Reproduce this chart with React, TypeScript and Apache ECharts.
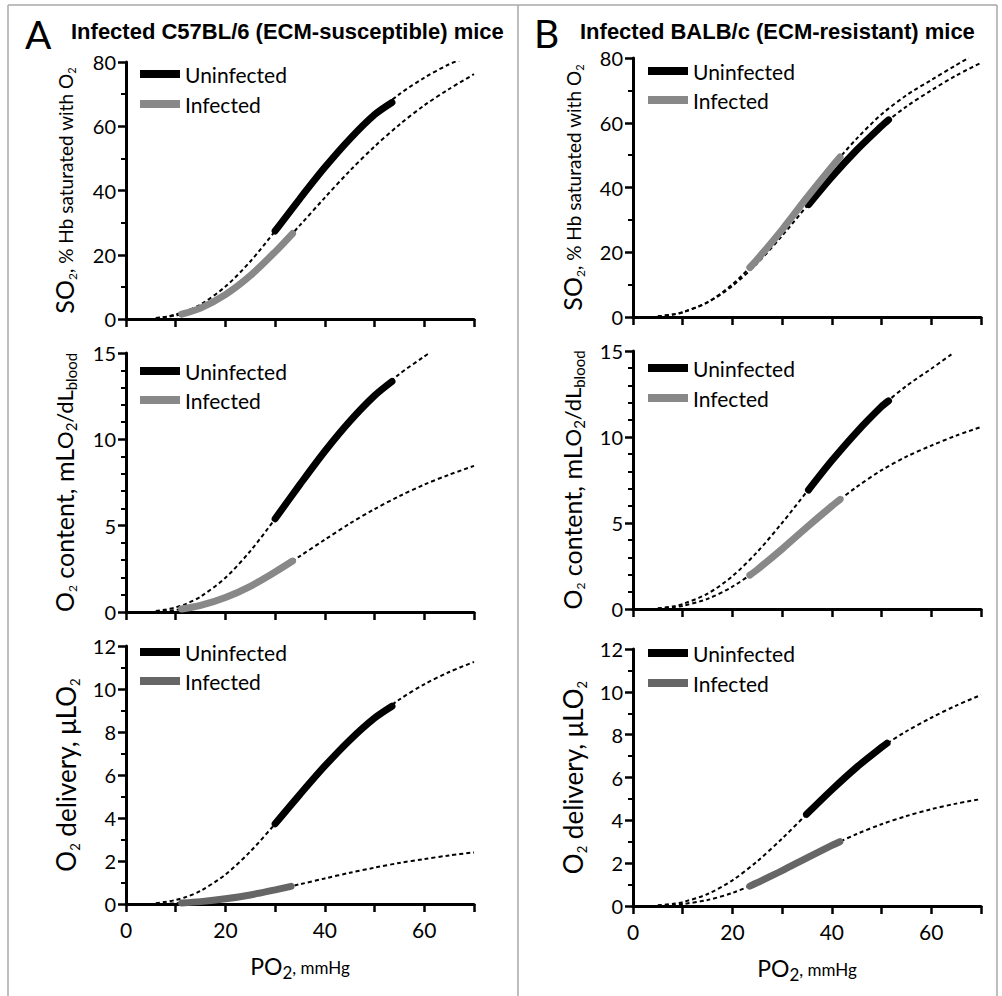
import React, { useEffect, useRef } from 'react';
import * as echarts from 'echarts';

// PO2 (mmHg) vs value pairs
const A_SO2_uFit = [[6,0.3],[8,0.7],[10,1.4],[12,2.4],[15,4.5],[20,10.1],[25,17.9],[30,27.4],[35,37.5],[40,47.2],[45,56.0],[50,63.6],[55,70.0],[60,75.1],[65,79.3],[67.2,80.6]];
const A_SO2_uLine = [[30,27.4],[35,37.5],[40,47.2],[45,56.0],[50,63.6],[53.5,67.4]];
const A_SO2_iFit = [[6,0.25],[8,0.6],[10,1.1],[12,1.8],[15,3.4],[20,7.6],[25,13.5],[30,20.9],[35,29.2],[40,37.8],[45,46.1],[50,53.7],[55,60.5],[60,66.5],[65,71.6],[70,76.2]];
const A_SO2_iLine = [[11.2,1.5],[15,3.4],[20,7.6],[25,13.5],[30,20.9],[33.5,26.6]];

const A_O2C_uFit = [[6,0.06],[8,0.14],[10,0.27],[12,0.46],[15,0.89],[20,1.98],[25,3.53],[30,5.4],[35,7.39],[40,9.31],[45,11.04],[50,12.53],[55,13.78],[60,14.8],[61,15.0]];
const A_O2C_uLine = [[30,5.4],[35,7.39],[40,9.31],[45,11.04],[50,12.53],[53.5,13.35]];
const A_O2C_iFit = [[6,0.03],[8,0.06],[10,0.12],[12,0.2],[15,0.38],[20,0.84],[25,1.49],[30,2.32],[35,3.24],[40,4.19],[45,5.12],[50,5.96],[55,6.71],[60,7.38],[65,7.95],[70,8.46]];
const A_O2C_iLine = [[11.2,0.17],[15,0.38],[20,0.84],[25,1.49],[30,2.32],[33.5,2.95]];

const A_DEL_uFit = [[6,0.04],[8,0.1],[10,0.19],[12,0.32],[15,0.61],[20,1.37],[25,2.44],[30,3.73],[35,5.1],[40,6.42],[45,7.62],[50,8.65],[55,9.51],[60,10.22],[65,10.79],[70,11.26]];
const A_DEL_uLine = [[30,3.73],[35,5.1],[40,6.42],[45,7.62],[50,8.65],[53.5,9.2]];
const A_DEL_iFit = [[6,0.01],[8,0.02],[10,0.03],[12,0.06],[15,0.11],[20,0.24],[25,0.42],[30,0.66],[35,0.92],[40,1.19],[45,1.45],[50,1.69],[55,1.91],[60,2.09],[65,2.26],[70,2.4]];
const A_DEL_iLine = [[11.2,0.05],[15,0.11],[20,0.24],[25,0.42],[30,0.66],[33.2,0.82]];

const B_SO2_uFit = [[5,0.2],[8,0.8],[10,1.5],[15,4.5],[20,9.6],[25,16.6],[30,25.1],[35,34.3],[40,43.3],[45,51.6],[50,59.0],[55,65.0],[60,70.0],[65,74.6],[70,78.5]];
const B_SO2_uLine = [[35.3,34.7],[40,43.3],[45,51.6],[50,59.0],[51.4,60.9]];
const B_SO2_iFit = [[5,0.2],[8,0.75],[10,1.4],[15,4.6],[20,10.1],[25,17.8],[30,27.0],[35,36.9],[40,46.4],[45,55.1],[50,62.6],[55,68.5],[60,73.2],[65,77.8],[67.5,80]];
const B_SO2_iLine = [[23.5,15.3],[25,17.8],[30,27.0],[35,36.9],[40,46.4],[41.65,49.4]];

const B_O2C_uFit = [[5,0.04],[8,0.15],[10,0.29],[15,0.89],[20,1.91],[25,3.32],[30,5.01],[35,6.83],[40,8.63],[45,10.29],[50,11.77],[55,12.97],[60,13.97],[64.5,14.9]];
const B_O2C_uLine = [[35.3,6.92],[40,8.63],[45,10.29],[50,11.77],[51.4,12.1]];
const B_O2C_iFit = [[5,0.02],[8,0.1],[10,0.18],[15,0.59],[20,1.3],[25,2.29],[30,3.49],[35,4.76],[40,5.99],[45,7.1],[50,8.07],[55,8.86],[60,9.5],[65,10.08],[70,10.58]];
const B_O2C_iLine = [[23.5,1.97],[25,2.29],[30,3.49],[35,4.76],[40,5.99],[41.65,6.37]];

const B_DEL_uFit = [[5,0.03],[8,0.1],[10,0.18],[15,0.56],[20,1.2],[25,2.09],[30,3.15],[35,4.3],[40,5.43],[45,6.48],[50,7.41],[55,8.16],[60,8.79],[65,9.36],[70,9.85]];
const B_DEL_uLine = [[34.9,4.28],[40,5.43],[45,6.48],[50,7.41],[51.1,7.6]];
const B_DEL_iFit = [[5,0.01],[8,0.05],[10,0.09],[15,0.28],[20,0.61],[25,1.09],[30,1.65],[35,2.25],[40,2.83],[45,3.36],[50,3.82],[55,4.2],[60,4.52],[65,4.78],[70,4.99]];
const B_DEL_iLine = [[23.5,0.93],[25,1.09],[30,1.65],[35,2.25],[40,2.83],[41.6,3.0]];

const X_LABELS = [0, 20, 40, 60];
const LEGEND_NAMES = ['Uninfected', 'Infected'];
const TITLE_A = 'Infected C57BL/6 (ECM-susceptible) mice';
const TITLE_B = 'Infected BALB/c (ECM-resistant) mice';

const FONT = 'Lato';

const NAME_SO2 = '{big|SO}{bsub|2}{sm|, % Hb saturated with O}{ssub|2}';
const NAME_O2C = '{big|O}{bsub|2}{big| content, mL}{mid|O}{msub|2}{mid|/dL}{msub|blood}';
const NAME_DEL = '{dbig|O}{dsub|2}{dbig| delivery, μLO}{dsub|2}';
const NAME_X = '{xbig|PO}{xsub|2}{xsm|, mmHg}';

const tok = (size: number, pb: number) => ({
  fontSize: size, fontFamily: FONT, color: '#000', verticalAlign: 'bottom', padding: [0, 0, pb, 0],
});
const rich: any = {
  big: tok(25, 3),
  bsub: tok(12, 1),
  sm: tok(19, 4),
  ssub: tok(11, 1.9),
  mid: tok(22, 3.5),
  msub: tok(15, 0.7),
  dbig: tok(26, 2.8),
  dsub: tok(13, 0.5),
  xbig: tok(23, 5),
  xsub: tok(17, 1),
  xsm: tok(17, 6),
};

const panels = [
  { left: 126, top: 62, height: 257, max: 80, interval: 20, minor: 2, name: NAME_SO2, gap: 47, lg: 63, lgGap: 8, lgLeft: 140, grey: '#888', uF: A_SO2_uFit, uL: A_SO2_uLine, iF: A_SO2_iFit, iL: A_SO2_iLine, xl: false },
  { left: 126, top: 353, height: 259, max: 15, interval: 5, minor: 5, name: NAME_O2C, gap: 47, lg: 360, lgGap: 7, lgLeft: 140, grey: '#888', uF: A_O2C_uFit, uL: A_O2C_uLine, iF: A_O2C_iFit, iL: A_O2C_iLine, xl: false },
  { left: 126, top: 646, height: 258, max: 12, interval: 2, minor: 2, name: NAME_DEL, gap: 44, lg: 641, lgGap: 7, lgLeft: 140, grey: '#666', uF: A_DEL_uFit, uL: A_DEL_uLine, iF: A_DEL_iFit, iL: A_DEL_iLine, xl: true },
  { left: 633, top: 58, height: 259, max: 80, interval: 20, minor: 2, name: NAME_SO2, gap: 46, lg: 60, lgGap: 7, lgLeft: 648, grey: '#888', uF: B_SO2_uFit, uL: B_SO2_uLine, iF: B_SO2_iFit, iL: B_SO2_iLine, xl: false },
  { left: 633, top: 351, height: 258, max: 15, interval: 5, minor: 5, name: NAME_O2C, gap: 46, lg: 357, lgGap: 8, lgLeft: 648, grey: '#888', uF: B_O2C_uFit, uL: B_O2C_uLine, iF: B_O2C_iFit, iL: B_O2C_iLine, xl: false },
  { left: 633, top: 649, height: 257, max: 12, interval: 2, minor: 2, name: NAME_DEL, gap: 44, lg: 642, lgGap: 8, lgLeft: 648, grey: '#666', uF: B_DEL_uFit, uL: B_DEL_uLine, iF: B_DEL_iFit, iL: B_DEL_iLine, xl: true },
];

function buildOption() {
  const grid: any[] = [];
  const xAxis: any[] = [];
  const yAxis: any[] = [];
  const series: any[] = [];
  const legend: any[] = [];
  panels.forEach((p, i) => {
    grid.push({ left: p.left, top: p.top, width: 348, height: p.height, containLabel: false });
    xAxis.push({
      type: 'value', gridIndex: i, min: 0, max: 70, interval: 10,
      axisLine: { show: true, onZero: false, lineStyle: { color: '#000', width: 3 } },
      axisTick: { show: true, length: 8, lineStyle: { color: '#000', width: 2.5 } },
      axisLabel: {
        show: p.xl, margin: 15, fontSize: 21, fontFamily: FONT, color: '#000',
        formatter: (v: number) => (X_LABELS.indexOf(v) >= 0 ? String(v) : ''),
      },
      splitLine: { show: false },
      name: p.xl ? NAME_X : '', nameLocation: 'middle', nameGap: 50,
      nameTextStyle: { rich },
    });
    yAxis.push({
      type: 'value', gridIndex: i, min: 0, max: p.max, interval: p.interval,
      axisLine: { show: true, onZero: false, lineStyle: { color: '#000', width: 3 } },
      axisTick: { show: true, length: 8, lineStyle: { color: '#000', width: 2.5 } },
      minorTick: { show: true, splitNumber: p.minor, length: 5, lineStyle: { color: '#000', width: 2 } },
      axisLabel: { margin: 10, fontSize: 20, fontFamily: FONT, color: '#000' },
      splitLine: { show: false },
      name: p.name, nameLocation: 'middle', nameGap: p.gap, nameRotate: 90,
      nameTextStyle: { rich },
    });
    legend.push({
      orient: 'vertical', left: p.lgLeft, top: p.lg, padding: 0, itemGap: p.lgGap,
      itemWidth: 40, itemHeight: 8, icon: 'rect', selectedMode: false,
      textStyle: { fontFamily: FONT, fontSize: 21, color: '#000', lineHeight: 22 },
      data: [
        { name: LEGEND_NAMES[0], itemStyle: { color: '#000' } },
        { name: LEGEND_NAMES[1], itemStyle: { color: p.grey } },
      ],
    });
    const common = { type: 'line', xAxisIndex: i, yAxisIndex: i, smooth: 0.3, showSymbol: false, symbol: 'none', silent: true };
    series.push({ ...common, name: 'Uninfected fit', data: p.uF, z: 2, lineStyle: { color: '#000', width: 2, type: [4, 3] }, itemStyle: { color: '#000' } });
    series.push({ ...common, name: 'Infected fit', data: p.iF, z: 2, lineStyle: { color: '#000', width: 2, type: [4, 3] }, itemStyle: { color: '#000' } });
    series.push({ ...common, name: LEGEND_NAMES[0], data: p.uL, z: 3, lineStyle: { color: '#000', width: 7, cap: 'round' }, itemStyle: { color: '#000' } });
    series.push({ ...common, name: LEGEND_NAMES[1], data: p.iL, z: 4, lineStyle: { color: p.grey, width: 7, cap: 'round' }, itemStyle: { color: p.grey } });
  });

  const frame = { stroke: '#a8a8a8', lineWidth: 1.5 };
  const graphic: any[] = [
    { type: 'line', shape: { x1: 8, y1: 5, x2: 997, y2: 5 }, style: frame, silent: true },
    { type: 'line', shape: { x1: 8, y1: 5, x2: 8, y2: 996 }, style: frame, silent: true },
    { type: 'line', shape: { x1: 518, y1: 5, x2: 518, y2: 996 }, style: frame, silent: true },
    { type: 'line', shape: { x1: 997, y1: 5, x2: 997, y2: 996 }, style: frame, silent: true },
    { type: 'text', x: 25, y: 34, style: { text: 'A', fontFamily: FONT, fontSize: 39, fill: '#000', align: 'left', verticalAlign: 'middle' } },
    { type: 'text', x: 534, y: 33, style: { text: 'B', fontFamily: FONT, fontSize: 39, fill: '#000', align: 'left', verticalAlign: 'middle' } },
    { type: 'text', x: 71, y: 31, style: { text: TITLE_A, fontFamily: 'Liberation Sans', fontWeight: 'bold', fontSize: 22, fill: '#000', align: 'left', verticalAlign: 'middle' } },
    { type: 'text', x: 580, y: 31, style: { text: TITLE_B, fontFamily: 'Liberation Sans', fontWeight: 'bold', fontSize: 22, fill: '#000', align: 'left', verticalAlign: 'middle' } },
  ];

  return {
    animation: false,
    backgroundColor: '#fff',
    textStyle: { fontFamily: FONT },
    grid, xAxis, yAxis, series, legend, graphic,
  };
}

export default function App() {
  const ref = useRef<HTMLDivElement>(null);
  useEffect(() => {
    document.body.style.margin = '0';
    const chart = echarts.init(ref.current as HTMLDivElement, null, { renderer: 'svg' });
    chart.setOption(buildOption() as any);
    return () => chart.dispose();
  }, []);
  return <div ref={ref} style={{ width: 1002, height: 996 }} />;
}
